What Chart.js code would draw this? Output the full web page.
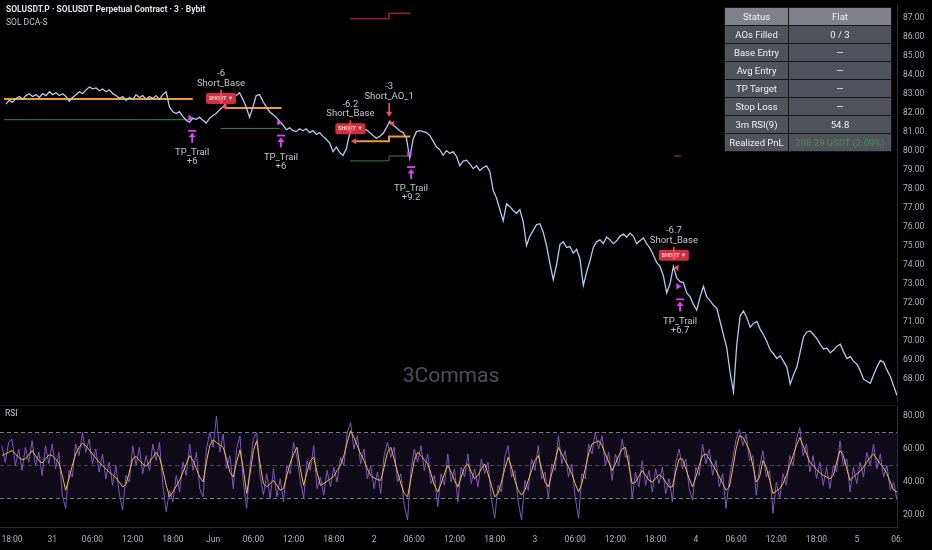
<!DOCTYPE html>
<html><head><meta charset="utf-8">
<script src="https://cdn.jsdelivr.net/npm/chart.js@4.4.1/dist/chart.umd.min.js"></script>
<style>
html,body{margin:0;padding:0;background:#000;width:932px;height:550px;overflow:hidden;font-family:Roboto,"Noto Sans",sans-serif;}
#wm{position:absolute;left:0;width:902px;top:363px;text-align:center;color:#4d4f55;font:21px Roboto,sans-serif;}
#mainWrap{position:absolute;left:0;top:0;width:932px;height:406px;}
#rsiWrap{position:absolute;left:0;top:406px;width:932px;height:144px;}
#sep{position:absolute;left:0;top:405px;width:897px;height:1px;background:#1a1a1a;}
#hdr1{position:absolute;left:6px;top:4px;color:#e0e2e6;font:bold 8.5px Roboto,sans-serif;white-space:nowrap;}
#hdr2{position:absolute;left:6px;top:17px;color:#c4c6cc;font:8.5px Roboto,sans-serif;white-space:nowrap;}
#rsiLbl{position:absolute;left:5px;top:408px;color:#c4c6cc;font:8.5px Roboto,sans-serif;}
#tbl{position:absolute;left:724px;top:7px;border-collapse:collapse;width:168px;font:9.5px Roboto,sans-serif;color:#f0f0f0;}
#tbl td{height:17px;padding:0;text-align:center;border:1px solid #161616;background:#50535b;}
#tbl tr:first-child td{background:#7e8189;}
#tbl td:first-child{width:63px;}
#tbl .pnl{color:#3f9448;}
</style></head>
<body>
<div id="wm">3Commas</div>
<div id="mainWrap"><canvas id="main"></canvas></div>
<div id="sep"></div>
<div id="rsiWrap"><canvas id="rsi"></canvas></div>
<div id="hdr1">SOLUSDT.P · SOLUSDT Perpetual Contract · 3 · Bybit</div>
<div id="hdr2">SOL DCA-S</div>
<div id="rsiLbl">RSI</div>
<table id="tbl"></table>
<script>
// ---------- DATA ----------
const startHour = -1.5;          // hours after 30 May 18:00
const stepHours = 0.5;
const priceValues = [
82.45,82.65,82.55,82.75,82.85,82.70,82.90,83.00,82.85,82.95,
82.80,83.00,82.90,83.10,82.95,83.05,82.90,83.00,82.85,82.60,
82.80,82.95,83.10,83.00,83.20,83.35,83.25,83.30,83.15,83.25,
83.10,83.20,83.00,82.90,82.75,82.85,82.65,82.80,82.70,82.95,
82.80,82.90,82.70,82.85,82.75,82.90,82.70,82.95,83.10,82.30,
82.05,81.95,82.05,81.80,81.60,81.50,81.70,81.65,81.75,81.60,
81.45,81.70,81.85,81.95,82.15,82.30,82.50,82.65,82.80,82.90,
83.05,82.70,82.30,81.75,82.30,82.90,82.95,82.60,82.30,82.05,
81.90,81.75,81.55,81.35,81.10,81.20,81.05,81.00,81.15,81.05,
81.15,80.95,81.05,80.85,80.95,80.75,80.60,80.40,79.95,80.20,
79.90,79.75,80.10,80.90,81.10,81.00,81.15,81.05,81.10,80.95,
80.80,80.65,80.75,80.90,81.20,81.55,81.35,81.20,81.05,80.95,
80.65,79.60,80.60,81.00,81.05,81.00,80.95,80.80,80.50,80.20,
80.05,79.75,80.00,79.85,79.95,79.70,79.20,79.45,79.50,79.30,
79.05,79.20,78.95,79.10,79.20,78.90,77.90,77.50,76.90,76.30,
77.20,77.05,76.85,76.70,76.90,76.25,75.00,75.50,75.80,76.10,
76.15,75.70,75.00,74.05,73.20,74.00,75.05,75.20,74.90,74.95,
74.60,74.80,74.30,72.90,73.60,74.20,74.90,75.20,75.30,75.10,
75.45,75.30,75.10,75.25,75.50,75.60,75.45,75.65,75.50,75.10,
75.25,75.40,75.10,74.85,74.50,74.10,73.90,73.40,72.50,73.00,
73.90,73.30,73.10,73.05,72.50,72.30,71.90,71.60,72.30,72.85,
72.30,72.10,71.85,71.70,71.00,70.30,69.60,68.30,67.30,69.80,
71.30,71.55,71.20,70.70,70.90,71.00,70.60,70.30,69.95,69.50,
69.30,69.05,69.20,68.90,68.60,67.70,68.20,68.60,69.40,70.20,
70.45,70.50,70.30,70.10,69.80,69.55,69.60,69.35,69.50,69.70,
69.80,69.40,69.05,69.15,68.90,68.75,68.40,67.95,67.85,67.75,
68.20,68.60,68.95,68.85,68.45,68.10,67.60,67.10];

const rsiValues = [
62,52,64,66,50,60,47,61,52,65,
50,58,44,62,51,63,48,58,32,24,
47,43,63,56,70,58,66,51,60,46,
57,42,52,38,50,33,23,44,40,62,
50,61,45,56,47,63,53,64,38,22,
35,28,44,34,52,44,63,47,58,36,
31,60,70,61,80,58,69,48,56,36,
60,68,40,24,50,66,70,44,32,45,
30,48,31,42,28,50,45,64,55,41,
30,53,47,62,36,43,32,47,37,49,
40,55,50,70,76,60,68,51,60,42,
50,36,46,33,56,64,55,61,40,45,
26,17,47,60,52,62,47,57,39,44,
25,45,38,57,40,48,28,49,43,57,
39,48,37,54,45,52,30,18,38,34,
55,62,43,47,28,17,41,35,54,47,
62,42,46,30,51,47,68,51,59,43,
51,31,18,45,42,63,57,70,60,68,
50,58,41,57,50,66,55,56,30,46,
37,53,38,47,34,48,39,49,33,42,
28,52,60,48,54,36,29,49,44,63,
51,60,44,53,37,45,24,42,54,66,
72,62,69,53,56,32,49,59,43,47,
21,40,30,45,38,56,50,66,73,56,
63,46,56,42,52,38,49,36,50,46,
65,50,54,34,49,39,52,43,58,50,
63,48,57,43,50,35,40,29];

const rsiMaValues = [
56,57,58,59,57,55,53.5,54,56.5,59,
56,53,51.5,54,56.5,56,54,51.5,44,35,
42,50,57,61,63.5,62,59.5,57,54.5,52,
50,48,46,44.5,42.5,40,37,38.5,46,54,
55.5,53,51,49.5,52,55,58,55,47,38,
31,34,37.5,41,46,51,56,53,48,43,
40,52,62,65.5,64,62.5,61,54,46,43,
52,59.5,48,33,45,59,65,51,39,37,
39,41,38,35,36,44,51.5,57,61,48,
38,46,53,55,46,38,39,40.5,42,43.5,
47,50,56,64,71,67,62,57,53,48,
44,42.5,41.5,41,49,58,61,54,46,39,
33,31,42,53,58,56,53.5,51,45,38,
34,39,45,50,46,41,37,43,49,51,
46,42,44,48,51,45,38,31,33,40,
48,55,49,41,35,32,35,41,47,53,
56,48,40,37,45,53,61,57,53,49,
45,39,34,39,48,57,63,64,65,62,
57,52,47,51,56,60,61,50,39,40,
43.5,47,44,41,40,42,44.5,43,40,37,
37,46,54,54,48,42,37,43,50,56,
57,54,50.5,47,43,39,35,37,48,60,
68,67,63.5,59,50,40,43,53,49,41,
33,34.5,36,39,44,50,56,62,67,62,
57,52,50,47.5,45.5,44,43,42,44,52,
59,56,48,41,43,45,46.5,49,52,55,
57,54,51,48.5,45,40,35,34];

const rsiLevels = [70, 50, 30];
const priceTicks = [68,69,70,71,72,73,74,75,76,77,78,79,80,81,82,83,84,85,86,87];
const rsiTicks = [20,40,60,80];
const timeTickHours = [0,6,12,18,24,30,36,42,48,54,60,66,72,78,84,90,96,102,108,114,120,126,132];
const timeTickLabels = ['18:00','31','06:00','12:00','18:00','Jun','06:00','12:00','18:00','2','06:00','12:00','18:00','3','06:00','12:00','18:00','4','06:00','12:00','18:00','5','06:'];

// strategy levels: [hour, price] vertices per trade
const avgEntryLines = [
  [[-1.8,82.72],[26.5,82.72]],
  [[31.5,82.25],[39.8,82.25]],
  [[50.8,80.50],[55.9,80.50],[55.9,80.75],[59.1,80.75]]
];
const takeProfitLines = [
  [[-1.8,81.63],[26.2,81.63]],
  [[30.7,81.17],[39.5,81.17]],
  [[50.1,79.46],[55.9,79.46],[55.9,79.72],[58.6,79.72]]
];
const stopLossLines = [
  [[50.1,86.95],[55.9,86.95],[55.9,87.24],[59.1,87.24]],
  [[98.6,79.72],[99.6,79.72]]
];

// orders
const entryHours = [30.72, 50.10, 55.92, 98.57];
const entryArrowPrices = [82.46, 80.86, 81.79, 74.20];
const entryQty = ['-6','-6.2','-3','-6.7'];
const entryNames = ['Short_Base','Short_Base','Short_AO_1','Short_Base'];
const entryTags = ['SHORT ▼','SHORT ▼','','SHORT ▼'];
const entryFillHours = [31.3, 50.7, 56.4, 99.0];
const entryFillPrices = [82.30, 80.50, 81.42, 73.83];
const exitHours = [26.1, 39.4, 58.9, 99.2];
const exitPrices = [81.73, 81.48, 79.82, 72.85];
const exitNames = ['TP_Trail','TP_Trail','TP_Trail','TP_Trail'];
const exitQty = ['+6','+6','+9.2','+6.7'];

const tableRows = [
  ['Status','Flat'],['AOs Filled','0 / 3'],['Base Entry','—'],['Avg Entry','—'],
  ['TP Target','—'],['Stop Loss','—'],['3m RSI(9)','54.8'],['Realized PnL','208.29 USDT (2.09%)']
];

// ---------- BUILD ----------
const hourAt = i => startHour + i*stepHours;
const toXY = arr => arr.map((v,i)=>({x:hourAt(i), y:v}));
const segData = seg => seg.map(p=>({x:p[0], y:p[1]}));
const X_MIN = -1.79, X_MAX = 132;

Chart.defaults.font.family = 'Roboto, "Noto Sans", sans-serif';
Chart.defaults.animation = false;

const tbl = document.getElementById('tbl');
tableRows.forEach((r,i)=>{
  const tr = document.createElement('tr');
  r.forEach((c,j)=>{ const td=document.createElement('td'); td.textContent=c;
    if(i===tableRows.length-1 && j===1) td.className='pnl'; tr.appendChild(td); });
  tbl.appendChild(tr);
});

const markerPlugin = {
  id:'tradeMarks',
  afterDatasetsDraw(chart){
    const {ctx} = chart, xs = chart.scales.x, ys = chart.scales.y;
    ctx.save();
    ctx.textAlign='center'; ctx.textBaseline='middle';
    entryHours.forEach((h,i)=>{
      const px = xs.getPixelForValue(h), py = ys.getPixelForValue(entryArrowPrices[i]);
      if(entryTags[i]){
        ctx.fillStyle='#cf2f3f';
        ctx.beginPath(); ctx.roundRect(px-15, py-11, 30, 11, 2); ctx.fill();
        ctx.fillStyle='#ffd7da'; ctx.font='bold 5.5px Roboto';
        ctx.fillText(entryTags[i], px, py-5.5);
      }
      ctx.strokeStyle='#ff4a5c'; ctx.fillStyle='#ff4a5c'; ctx.lineWidth=1.6;
      ctx.beginPath(); ctx.moveTo(px, py-14); ctx.lineTo(px, py-4); ctx.stroke();
      ctx.beginPath(); ctx.moveTo(px-3.2, py-5); ctx.lineTo(px+3.2, py-5); ctx.lineTo(px, py); ctx.closePath(); ctx.fill();
      ctx.fillStyle='#c3c6cd'; ctx.font='9.5px Roboto';
      ctx.fillText(entryQty[i], px, py-30);
      ctx.fillText(entryNames[i], px, py-20.5);
    });
    exitHours.forEach((h,i)=>{
      const px = xs.getPixelForValue(h)+2, py = ys.getPixelForValue(exitPrices[i]);
      const y0 = py+13;
      ctx.strokeStyle='#e040fb'; ctx.fillStyle='#e040fb'; ctx.lineWidth=1.8;
      ctx.beginPath(); ctx.moveTo(px-4, y0); ctx.lineTo(px+4, y0); ctx.stroke();
      ctx.beginPath(); ctx.moveTo(px, y0+2); ctx.lineTo(px-3.5, y0+6.5); ctx.lineTo(px+3.5, y0+6.5); ctx.closePath(); ctx.fill();
      ctx.beginPath(); ctx.moveTo(px, y0+5); ctx.lineTo(px, y0+12); ctx.stroke();
      ctx.fillStyle='#c3c6cd'; ctx.font='9.5px Roboto';
      ctx.fillText(exitNames[i], px, py+35);
      ctx.fillText(exitQty[i], px, py+44);
    });
    ctx.restore();
  }
};

const mainDatasets = [
  {data: entryFillHours.map((h,i)=>({x:h,y:entryFillPrices[i]})), showLine:false, pointStyle:'triangle', rotation:-90, pointRadius:3.5, pointBackgroundColor:'#ff4a5c', pointBorderWidth:0},
  {data: exitHours.map((h,i)=>({x:h,y:exitPrices[i]})), showLine:false, pointStyle:'triangle', rotation:90, pointRadius:3.5, pointBackgroundColor:'#e040fb', pointBorderWidth:0},
  {data: toXY(priceValues), borderColor:'#b3c9f0', borderWidth:1.3, pointRadius:0, tension:0},
];
avgEntryLines.forEach(s=>mainDatasets.push({data:segData(s), borderColor:'#f29b2c', borderWidth:2, pointRadius:0}));
takeProfitLines.forEach(s=>mainDatasets.push({data:segData(s), borderColor:'#3e7d47', borderWidth:1, pointRadius:0}));
stopLossLines.forEach(s=>mainDatasets.push({data:segData(s), borderColor:'#9e1d2e', borderWidth:1.5, pointRadius:0}));

function yAxis(min, max, ticks){
  return {
    position:'right', min:min, max:max,
    grid:{display:false, drawTicks:false},
    border:{display:true, color:'#2b2b2b'},
    ticks:{color:'#b2b5be', font:{size:8.5}, padding:6, callback:v=>Number(v).toFixed(2)},
    afterBuildTicks:s=>{ s.ticks = ticks.map(v=>({value:v})); },
    afterFit:s=>{ s.width = 35; s.paddingTop = 0; s.paddingBottom = 0; }
  };
}

new Chart(document.getElementById('main'), {
  type:'line',
  data:{datasets:mainDatasets},
  options:{
    responsive:true, maintainAspectRatio:false, events:[],
    layout:{padding:0},
    plugins:{legend:{display:false}, tooltip:{enabled:false}},
    scales:{
      x:{type:'linear', min:X_MIN, max:X_MAX, display:false},
      y:yAxis(66.76, 87.723, priceTicks)
    }
  },
  plugins:[markerPlugin]
});

const rsiDatasets = [
  {data: toXY(rsiMaValues), borderColor:'#f2b949', borderWidth:1, pointRadius:0},
  {data: toXY(rsiValues), borderColor:'#7e57c2', borderWidth:1, pointRadius:0},
];
rsiLevels.forEach((lv,i)=>{
  const ds = {data:[{x:X_MIN,y:lv},{x:X_MAX,y:lv}], borderColor: lv===50 ? 'rgba(120,123,134,0.55)' : 'rgba(150,153,162,0.8)', borderWidth:1, borderDash:[4,3], pointRadius:0};
  if(i===0){ ds.fill = {value: rsiLevels[rsiLevels.length-1]}; ds.backgroundColor='rgba(126,87,194,0.12)'; }
  rsiDatasets.push(ds);
});

new Chart(document.getElementById('rsi'), {
  type:'line',
  data:{datasets:rsiDatasets},
  options:{
    responsive:true, maintainAspectRatio:false, events:[],
    layout:{padding:0},
    plugins:{legend:{display:false}, tooltip:{enabled:false}},
    scales:{
      x:{type:'linear', min:X_MIN, max:X_MAX, position:'bottom',
        grid:{display:false, drawTicks:false},
        border:{display:true, color:'#2b2b2b'},
        ticks:{color:'#b2b5be', font:{size:8.5}, padding:8, maxRotation:0, autoSkip:false,
          callback:(v,i)=>timeTickLabels[i]},
        afterBuildTicks:s=>{ s.ticks = timeTickHours.map(v=>({value:v})); },
        afterFit:s=>{ s.height = 23; s.paddingLeft = 0; s.paddingRight = 0; }
      },
      y:yAxis(12.73, 86.06, rsiTicks)
    }
  }
});
</script>
</body></html>
